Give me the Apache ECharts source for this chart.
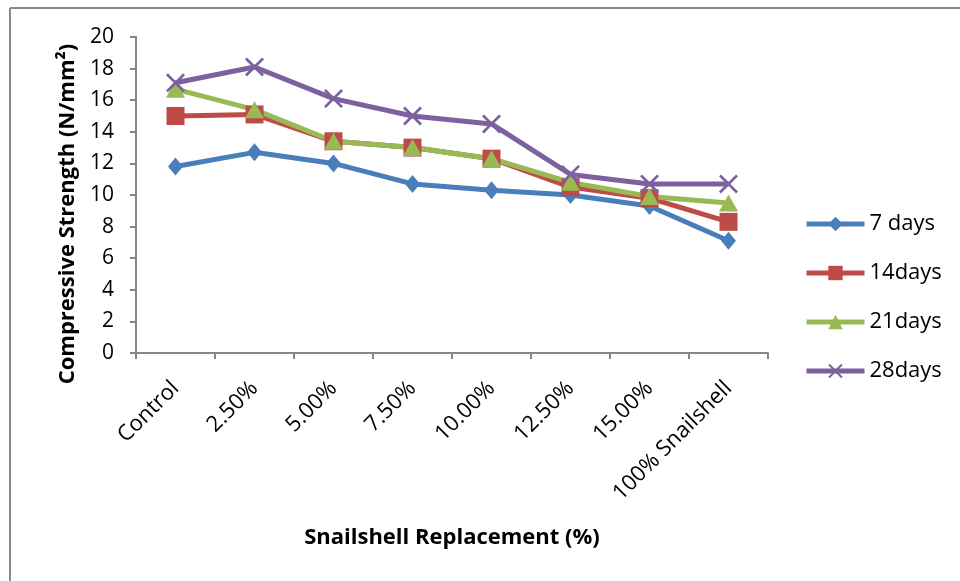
<!DOCTYPE html>
<html>
<head>
<meta charset="utf-8">
<script src="https://cdn.jsdelivr.net/npm/echarts@6/dist/echarts.min.js"></script>
<style>
  html, body { margin: 0; padding: 0; background: #fff; }
  #chart { width: 960px; height: 581px; }
</style>
</head>
<body>
<div id="chart"></div>
<script>
const categories = ["Control", "2.50%", "5.00%", "7.50%", "10.00%", "12.50%", "15.00%", "100% Snailshell"];
const days7 = [11.8, 12.7, 12.0, 10.7, 10.3, 10.0, 9.3, 7.1];
const days14 = [15.0, 15.1, 13.4, 13.0, 12.3, 10.5, 9.8, 8.3];
const days21 = [16.7, 15.4, 13.4, 13.0, 12.3, 10.8, 9.9, 9.5];
const days28 = [17.1, 18.1, 16.1, 15.0, 14.5, 11.3, 10.7, 10.7];

const chart = echarts.init(document.getElementById("chart"));

const font = "Open Sans";
const axisGray = "#868686";
const crossPath = "path://M0,1L1,0L5,4L9,0L10,1L6,5L10,9L9,10L5,6L1,10L0,9L4,5Z";

function lineSeries(name, data, color, symbol, size) {
  return {
    name: name,
    type: "line",
    data: data,
    symbol: symbol,
    symbolSize: size,
    showAllSymbol: true,
    lineStyle: { color: color, width: 5 },
    itemStyle: { color: color },
    z: 2
  };
}

const option = {
  animation: false,
  textStyle: { fontFamily: font },
  graphic: [
    { type: "line", shape: { x1: 10, y1: 8, x2: 960, y2: 8 }, style: { stroke: "#8a8a8a", lineWidth: 2 } },
    { type: "line", shape: { x1: 10, y1: 8, x2: 10, y2: 581 }, style: { stroke: "#8a8a8a", lineWidth: 2 } }
  ],
  grid: { left: 136, right: 192, top: 37, bottom: 228 },
  legend: {
    orient: "vertical",
    left: 799,
    top: 208,
    itemWidth: 58,
    itemHeight: 18,
    itemGap: 27,
    lineStyle: { width: 5 },
    textStyle: { fontFamily: font, fontSize: 22, color: "#000" },
    data: ["7 days", "14days", "21days", "28days"]
  },
  xAxis: {
    type: "category",
    data: categories,
    boundaryGap: true,
    name: "Snailshell Replacement (%)",
    nameLocation: "middle",
    nameGap: 174,
    nameTextStyle: { fontFamily: font, fontSize: 22, fontWeight: "bold", color: "#000" },
    axisLine: { lineStyle: { color: axisGray, width: 2 } },
    axisTick: { show: true, length: 6, alignWithLabel: false, lineStyle: { color: axisGray, width: 2 } },
    axisLabel: { rotate: 45, margin: 32, fontSize: 22, color: "#000", interval: 0 },
    splitLine: { show: false }
  },
  yAxis: {
    type: "value",
    min: 0,
    max: 20,
    interval: 2,
    name: "Compressive Strength (N/mm²)",
    nameLocation: "middle",
    nameGap: 56,
    nameTextStyle: { fontFamily: font, fontSize: 22, fontWeight: "bold", color: "#000", padding: [0, 38, 0, 0] },
    axisLine: { show: true, lineStyle: { color: axisGray, width: 2 } },
    axisTick: { show: true, length: 6, lineStyle: { color: axisGray, width: 2 } },
    axisLabel: { fontSize: 21, color: "#000", margin: 22 },
    splitLine: { show: false }
  },
  series: [
    lineSeries("7 days", days7, "#4A7EBB", "diamond", [15, 18]),
    lineSeries("14days", days14, "#BE4B48", "rect", [18, 18]),
    lineSeries("21days", days21, "#98B954", "triangle", [19, 17]),
    lineSeries("28days", days28, "#7D60A0", crossPath, [19, 19])
  ]
};

chart.setOption(option);
</script>
</body>
</html>
